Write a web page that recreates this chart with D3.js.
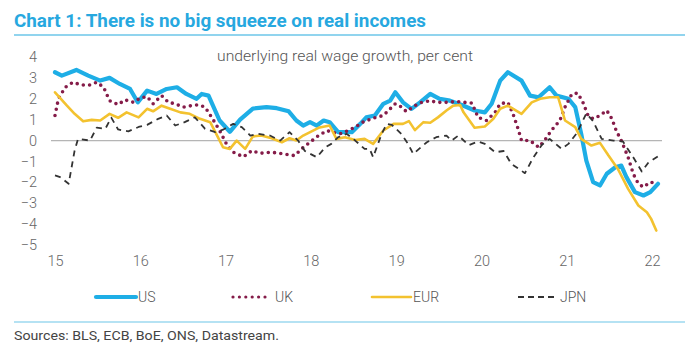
<!DOCTYPE html>
<html>
<head>
<meta charset="utf-8">
<script src="https://cdn.jsdelivr.net/npm/d3@7"></script>
<style>
  body { margin: 0; background: #fff; }
  svg { display: block; font-family: Roboto, "Open Sans", sans-serif; }
</style>
</head>
<body>
<svg id="chart" width="700" height="352"></svg>
<script>
// series: [year (2-digit, decimal), per cent]
const usData = [[15.00,3.27],[15.08,3.11],[15.25,3.38],[15.39,3.11],[15.53,2.87],[15.64,3.0],[15.76,2.71],[15.88,2.47],[15.97,1.83],[16.08,2.39],[16.19,2.23],[16.31,2.47],[16.43,2.55],[16.54,2.23],[16.66,2.0],[16.72,2.23],[16.80,2.15],[16.93,0.96],[17.05,0.42],[17.17,1.0],[17.32,1.53],[17.48,1.6],[17.60,1.55],[17.74,1.4],[17.83,0.96],[17.91,0.72],[17.99,0.88],[18.07,0.72],[18.15,0.96],[18.22,0.88],[18.32,0.4],[18.48,0.4],[18.58,0.8],[18.65,1.11],[18.75,1.2],[18.85,1.76],[18.93,1.91],[18.99,2.31],[19.08,1.83],[19.18,1.52],[19.28,1.83],[19.40,2.23],[19.51,2.0],[19.63,1.91],[19.77,1.7],[19.92,1.44],[20.04,1.35],[20.12,1.76],[20.22,2.87],[20.31,3.27],[20.47,2.87],[20.57,2.15],[20.67,2.07],[20.80,2.55],[20.88,2.15],[21.02,2.0],[21.10,1.6],[21.17,0.32],[21.23,-0.96],[21.31,-1.99],[21.39,-2.15],[21.47,-1.59],[21.57,-1.28],[21.64,-1.2],[21.70,-1.75],[21.80,-2.47],[21.90,-2.63],[21.98,-2.47],[22.07,-2.07]];

const ukData = [[15.00,1.2],[15.04,2.0],[15.12,2.55],[15.21,2.79],[15.31,2.66],[15.41,2.66],[15.49,2.79],[15.57,2.55],[15.64,1.91],[15.74,1.72],[15.82,1.95],[15.92,1.83],[16.00,2.04],[16.08,2.1],[16.15,1.76],[16.25,2.15],[16.33,1.83],[16.41,1.76],[16.50,1.6],[16.60,1.67],[16.68,1.71],[16.76,1.6],[16.86,0.96],[16.93,0.48],[17.01,-0.16],[17.09,-0.56],[17.21,-0.78],[17.31,-0.48],[17.40,-0.61],[17.54,-0.56],[17.68,-0.64],[17.81,-0.72],[17.89,-0.4],[17.99,-0.08],[18.09,0.24],[18.19,0.48],[18.24,0.4],[18.34,0.32],[18.42,0.45],[18.52,0.64],[18.61,0.88],[18.73,1.07],[18.85,1.2],[18.93,1.52],[18.99,1.76],[19.04,1.67],[19.12,1.39],[19.22,1.67],[19.30,1.83],[19.40,1.91],[19.47,1.83],[19.59,1.83],[19.71,1.87],[19.89,1.79],[19.96,1.11],[20.06,0.96],[20.16,1.35],[20.22,1.76],[20.31,1.83],[20.37,1.28],[20.43,0.56],[20.47,0.0],[20.57,0.0],[20.67,-0.32],[20.74,0.0],[20.82,0.48],[20.92,0.96],[20.98,1.6],[21.06,2.23],[21.13,2.27],[21.19,1.83],[21.25,1.2],[21.31,1.04],[21.39,1.2],[21.47,1.44],[21.53,1.04],[21.58,0.48],[21.64,0.0],[21.72,-0.8],[21.78,-1.59],[21.84,-2.07],[21.90,-2.23],[21.98,-1.99],[22.03,-2.04]];

const eurData = [[15.00,2.31],[15.14,1.67],[15.23,1.28],[15.33,0.92],[15.43,0.99],[15.53,0.96],[15.64,1.28],[15.74,1.09],[15.84,1.35],[15.98,1.11],[16.08,1.52],[16.15,1.4],[16.25,1.67],[16.35,1.52],[16.47,1.35],[16.58,1.28],[16.70,1.04],[16.82,0.88],[16.91,0.16],[16.97,-0.32],[17.05,-0.4],[17.13,0.0],[17.23,-0.4],[17.32,0.2],[17.42,0.24],[17.54,0.11],[17.66,-0.08],[17.75,0.11],[17.83,0.0],[17.91,0.24],[18.09,0.61],[18.22,0.72],[18.30,0.08],[18.40,0.16],[18.52,0.03],[18.63,0.08],[18.73,-0.16],[18.85,0.48],[18.97,0.8],[19.08,0.8],[19.15,0.93],[19.22,0.5],[19.32,0.88],[19.40,0.85],[19.49,1.11],[19.59,1.44],[19.67,1.67],[19.75,1.7],[19.79,1.35],[19.92,0.61],[20.04,0.67],[20.14,1.04],[20.22,1.52],[20.31,1.67],[20.47,1.28],[20.59,1.83],[20.69,2.0],[20.80,2.07],[20.90,2.07],[20.98,0.96],[21.10,0.64],[21.17,0.08],[21.29,-0.24],[21.39,-0.11],[21.49,-0.72],[21.60,-1.36],[21.72,-2.31],[21.84,-3.11],[21.94,-3.43],[21.99,-3.75],[22.05,-4.31]];

const jpnData = [[15.00,-1.67],[15.06,-1.75],[15.16,-2.07],[15.23,-0.48],[15.27,0.08],[15.41,0.0],[15.49,0.62],[15.59,0.56],[15.66,1.1],[15.74,0.53],[15.86,0.44],[15.98,0.65],[16.08,0.75],[16.21,1.04],[16.31,1.2],[16.41,0.72],[16.52,0.88],[16.64,1.11],[16.76,0.56],[16.88,0.4],[16.97,0.52],[17.09,0.8],[17.19,0.64],[17.29,0.24],[17.38,0.32],[17.52,0.24],[17.64,0.0],[17.75,0.4],[17.85,0.0],[17.93,-0.5],[18.07,-0.8],[18.17,-0.32],[18.24,-0.16],[18.32,0.16],[18.42,0.32],[18.52,0.0],[18.63,-0.4],[18.69,-0.4],[18.73,-0.8],[18.83,0.32],[18.89,0.8],[18.95,0.75],[19.06,0.32],[19.14,-0.16],[19.20,-0.64],[19.36,-0.08],[19.47,0.16],[19.59,0.24],[19.65,0.0],[19.73,0.24],[19.85,-0.22],[19.96,-0.05],[20.04,-0.16],[20.16,-0.56],[20.26,-0.5],[20.35,-1.11],[20.51,-1.56],[20.61,-0.8],[20.71,-0.2],[20.80,0.08],[20.94,-0.4],[21.02,-0.16],[21.12,0.36],[21.23,1.3],[21.31,0.92],[21.41,0.08],[21.55,0.0],[21.66,-0.05],[21.78,-0.8],[21.88,-1.48],[21.96,-1.04],[22.07,-0.76]];

const xTicks = [15, 16, 17, 18, 19, 20, 21, 22];
const yTicks = [4, 3, 2, 1, 0, -1, -2, -3, -4, -5];

const series = [
    { name: "US", data: usData, color: "#1eaee6", width: 4.2, dash: null, cap: "round" },
    { name: "UK", data: ukData, color: "#851c49", width: 3.6, dash: "0 6.3", cap: "round" },
    { name: "EUR", data: eurData, color: "#f3c22f", width: 2.6, dash: null, cap: "round" },
    { name: "JPN", data: jpnData, color: "#333333", width: 1.8, dash: "6 5", cap: "butt" }
];

const svg = d3.select("#chart");

const x = d3.scaleLinear().domain([15, 22]).range([55, 652]);
const y = d3.scaleLinear().domain([-5, 4]).range([245, 57]);

// title and rules
svg.append("text")
    .attr("x", 14)
    .attr("y", 27)
    .attr("fill", "#27a8df")
    .style("font-size", "17.5px")
    .style("font-weight", 700)
    .attr("textLength", 412)
    .attr("lengthAdjust", "spacingAndGlyphs")
    .text("Chart 1: There is no big squeeze on real incomes");

svg.append("line")
    .attr("x1", 14).attr("x2", 685)
    .attr("y1", 35).attr("y2", 35)
    .attr("stroke", "#6cc6e8").attr("stroke-width", 1.5);

svg.append("text")
    .attr("x", 217)
    .attr("y", 61)
    .attr("fill", "#555")
    .style("font-size", "14.5px")
    .style("font-weight", 300)
    .attr("textLength", 256)
    .attr("lengthAdjust", "spacingAndGlyphs")
    .text("underlying real wage growth, per cent");

// axes
const yAxis = d3.axisLeft(y).tickValues(yTicks).tickSize(0).tickPadding(0);
svg.append("g")
    .attr("transform", "translate(37,0)")
    .call(yAxis)
    .call(g => g.select(".domain").remove())
    .selectAll("text")
    .attr("fill", "#666")
    .style("font-size", "14.5px")
    .style("font-weight", 300)
    .style("font-family", "Roboto, sans-serif");

const xAxis = d3.axisBottom(x).tickValues(xTicks).tickFormat(d3.format("d")).tickSize(0).tickPadding(0);
svg.append("g")
    .attr("transform", "translate(0,256)")
    .call(xAxis)
    .call(g => g.select(".domain").remove())
    .selectAll("text")
    .attr("fill", "#666")
    .style("font-size", "14.5px")
    .style("font-weight", 300)
    .style("font-family", "Roboto, sans-serif");

// zero line
svg.append("line")
    .attr("x1", 51).attr("x2", 662)
    .attr("y1", y(0)).attr("y2", y(0))
    .attr("stroke", "#b5b5b5").attr("stroke-width", 1.2);

const line = d3.line()
    .x(d => x(d[0]))
    .y(d => y(d[1]));

svg.selectAll(".series")
    .data(series)
    .enter().append("path")
    .attr("class", "series")
    .attr("d", d => line(d.data))
    .attr("fill", "none")
    .attr("stroke", d => d.color)
    .attr("stroke-width", d => d.width)
    .attr("stroke-dasharray", d => d.dash)
    .attr("stroke-linecap", d => d.cap)
    .attr("stroke-linejoin", "round");

// legend
const legendPos = [
    { x1: 96, x2: 136, tx: 138 },
    { x1: 233, x2: 270, tx: 275 },
    { x1: 372, x2: 411, tx: 413 },
    { x1: 518, x2: 555, tx: 560 }
];

const legend = svg.selectAll(".legend-item")
    .data(series)
    .enter().append("g")
    .attr("class", "legend-item");

legend.append("line")
    .attr("x1", (d, i) => legendPos[i].x1)
    .attr("x2", (d, i) => legendPos[i].x2)
    .attr("y1", 297).attr("y2", 297)
    .attr("stroke", d => d.color)
    .attr("stroke-width", d => d.name === "JPN" ? 2 : d.name === "UK" ? 3.2 : d.width)
    .attr("stroke-dasharray", d => d.name === "UK" ? "0 6.4" : d.name === "JPN" ? "6 4" : null)
    .attr("stroke-linecap", d => d.cap);

legend.append("text")
    .attr("x", (d, i) => legendPos[i].tx)
    .attr("y", 302)
    .attr("fill", "#555")
    .style("font-size", "14px")
    .style("font-weight", 300)
    .text(d => d.name);

svg.append("line")
    .attr("x1", 14).attr("x2", 685)
    .attr("y1", 322).attr("y2", 322)
    .attr("stroke", "#6cc6e8").attr("stroke-width", 1.2);

svg.append("text")
    .attr("x", 14)
    .attr("y", 340)
    .attr("fill", "#444")
    .style("font-size", "13px")
    .attr("textLength", 265)
    .attr("lengthAdjust", "spacingAndGlyphs")
    .text("Sources: BLS, ECB, BoE, ONS, Datastream.");
</script>
</body>
</html>
